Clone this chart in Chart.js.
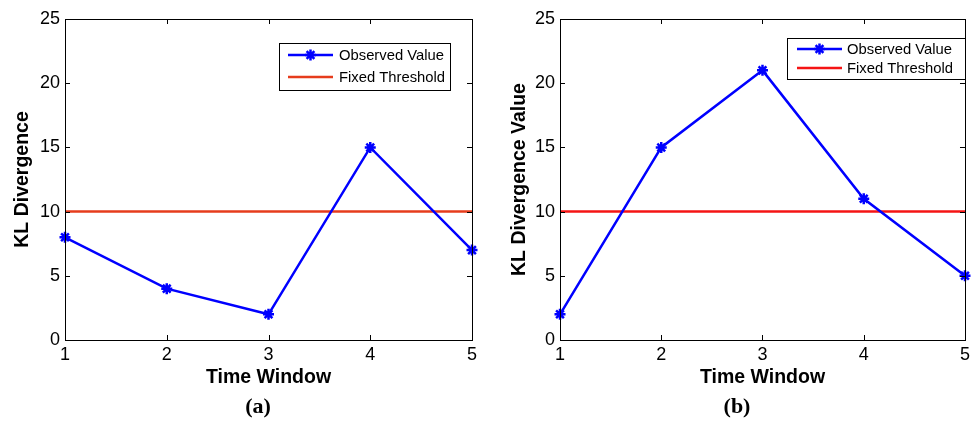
<!DOCTYPE html>
<html>
<head>
<meta charset="utf-8">
<script src="https://cdn.jsdelivr.net/npm/chart.js@4.4.1/dist/chart.umd.min.js"></script>
<style>
  body { margin: 0; background: #fff; }
  #wrap { position: relative; width: 974px; height: 421px; overflow: hidden; }
  canvas { position: absolute; top: 0; }
  .cap { position: absolute; top: 393px; font: bold 22px "Liberation Serif", serif; color: #000; transform: translateX(-50%); }
</style>
</head>
<body>
<div id="wrap">
  <canvas id="chartA" width="487" height="421" style="left:0;width:487px;height:421px"></canvas>
  <canvas id="chartB" width="487" height="421" style="left:487px;width:487px;height:421px"></canvas>
  <div class="cap" style="left:258px">(a)</div>
  <div class="cap" style="left:737px">(b)</div>
</div>
<script>
// Time windows on the x axis
const timeWindows = [1, 2, 3, 4, 5];
// Observed KL divergence per window
const observedA = [8, 4, 2, 15, 7];
const observedB = [2, 15, 21, 11, 5];
// Fixed detection threshold
const thresholdA = 10;
const thresholdB = 10;
// Y axis ticks
const yTicks = [0, 5, 10, 15, 20, 25];

const FONT = '"Liberation Sans", Arial, sans-serif';

// Closed axes box with inward tick marks on all four sides
const boxPlugin = {
    id: 'boxAxes',
    afterDatasetsDraw(chart) {
        const { ctx, chartArea: a, scales } = chart;
        const len = 5;
        ctx.save();
        ctx.strokeStyle = '#000';
        ctx.lineWidth = 1;
        ctx.beginPath();
        timeWindows.forEach(v => {
            const x = Math.round(scales.x.getPixelForValue(v)) + 0.5;
            ctx.moveTo(x, a.bottom); ctx.lineTo(x, a.bottom - len);
            ctx.moveTo(x, a.top); ctx.lineTo(x, a.top + len);
        });
        yTicks.forEach(v => {
            const y = Math.round(scales.y.getPixelForValue(v)) + 0.5;
            ctx.moveTo(a.left, y); ctx.lineTo(a.left + len, y);
            ctx.moveTo(a.right, y); ctx.lineTo(a.right - len, y);
        });
        ctx.stroke();
        ctx.strokeRect(Math.round(a.left) + 0.5, Math.round(a.top) + 0.5,
            Math.round(a.right - a.left), Math.round(a.bottom - a.top));
        ctx.restore();
    }
};

// Boxed legend drawn from the dataset styles
const boxLegendPlugin = {
    id: 'boxLegend',
    afterDraw(chart, args, opts) {
        const { ctx } = chart;
        ctx.save();
        ctx.fillStyle = '#fff';
        ctx.fillRect(opts.x, opts.y, opts.w, opts.h);
        ctx.strokeStyle = '#000';
        ctx.lineWidth = 1;
        ctx.strokeRect(opts.x + 0.5, opts.y + 0.5, opts.w, opts.h);
        ctx.font = '14.8px ' + FONT;
        ctx.textBaseline = 'middle';
        chart.data.datasets.forEach((ds, i) => {
            const y = opts.y + opts.rows[i];
            const x1 = opts.x + opts.lineFrom, x2 = opts.x + opts.lineTo;
            ctx.strokeStyle = ds.borderColor;
            ctx.lineWidth = ds.borderWidth;
            ctx.beginPath();
            ctx.moveTo(x1, y); ctx.lineTo(x2, y);
            ctx.stroke();
            if (ds.pointRadius > 0) {
                ctx.lineWidth = ds.pointBorderWidth;
                Chart.helpers.drawPoint(ctx, {
                    pointStyle: ds.pointStyle, radius: ds.pointRadius,
                    rotation: 0, borderWidth: ds.pointBorderWidth
                }, (x1 + x2) / 2, y);
            }
            ctx.fillStyle = '#000';
            ctx.fillText(ds.label, opts.x + opts.textX, y + 1);
        });
        ctx.restore();
    }
};

function makeChart(canvasId, observed, threshold, cfg) {
    const obsPoints = timeWindows.map((t, i) => ({ x: t, y: observed[i] }));
    const thrPoints = [
        { x: timeWindows[0], y: threshold },
        { x: timeWindows[timeWindows.length - 1], y: threshold }
    ];
    return new Chart(document.getElementById(canvasId), {
        type: 'line',
        data: {
            datasets: [{
                label: 'Observed Value',
                data: obsPoints,
                borderColor: '#0000ff',
                backgroundColor: '#0000ff',
                borderWidth: 2.5,
                pointStyle: 'star',
                pointRadius: 5.5,
                pointBorderWidth: 2.5,
                pointBorderColor: '#0000ff',
                clip: false,
                order: 1
            }, {
                label: 'Fixed Threshold',
                data: thrPoints,
                borderColor: cfg.thresholdColor,
                borderWidth: 2.5,
                pointRadius: 0,
                order: 2
            }]
        },
        options: {
            responsive: false,
            animation: false,
            layout: { padding: { top: 19, right: cfg.padRight, left: 0, bottom: 0 } },
            plugins: {
                legend: { display: false },
                tooltip: { enabled: false },
                boxLegend: cfg.legend
            },
            scales: {
                x: {
                    type: 'linear',
                    min: 1,
                    max: 5,
                    afterBuildTicks: s => { s.ticks = timeWindows.map(v => ({ value: v })); },
                    afterFit: s => { s.height = 81; },
                    grid: { display: false, drawTicks: false },
                    border: { display: false },
                    ticks: { color: '#000', padding: 4, font: { family: FONT, size: 18 } },
                    title: {
                        display: true,
                        text: 'Time Window',
                        color: '#000',
                        font: { family: FONT, size: 19.5, weight: 'bold' },
                        padding: { top: 0, bottom: 32 }
                    }
                },
                y: {
                    min: 0,
                    max: 25,
                    afterBuildTicks: s => { s.ticks = yTicks.map(v => ({ value: v })); },
                    afterFit: s => { s.width = cfg.yWidth; },
                    grid: { display: false, drawTicks: false },
                    border: { display: false },
                    ticks: { color: '#000', padding: 5, font: { family: FONT, size: 18 } },
                    title: {
                        display: true,
                        text: cfg.yTitle,
                        color: '#000',
                        font: { family: FONT, size: 19.5, weight: 'bold' },
                        padding: { top: cfg.yTitlePad, bottom: 0 }
                    }
                }
            }
        },
        plugins: [boxPlugin, boxLegendPlugin]
    });
}

makeChart('chartA', observedA, thresholdA, {
    yTitle: 'KL Divergence',
    yWidth: 65,
    yTitlePad: 11,
    padRight: 15,
    thresholdColor: '#e63c1c',
    legend: { x: 279, y: 43, w: 171, h: 47, rows: [12, 34], lineFrom: 9, lineTo: 54, textX: 60 }
});

makeChart('chartB', observedB, thresholdB, {
    yTitle: 'KL Divergence Value',
    yWidth: 73,
    yTitlePad: 21,
    padRight: 7,
    thresholdColor: '#f51414',
    legend: { x: 300, y: 38, w: 178, h: 41, rows: [11, 30], lineFrom: 10, lineTo: 55, textX: 60 }
});
</script>
</body>
</html>
